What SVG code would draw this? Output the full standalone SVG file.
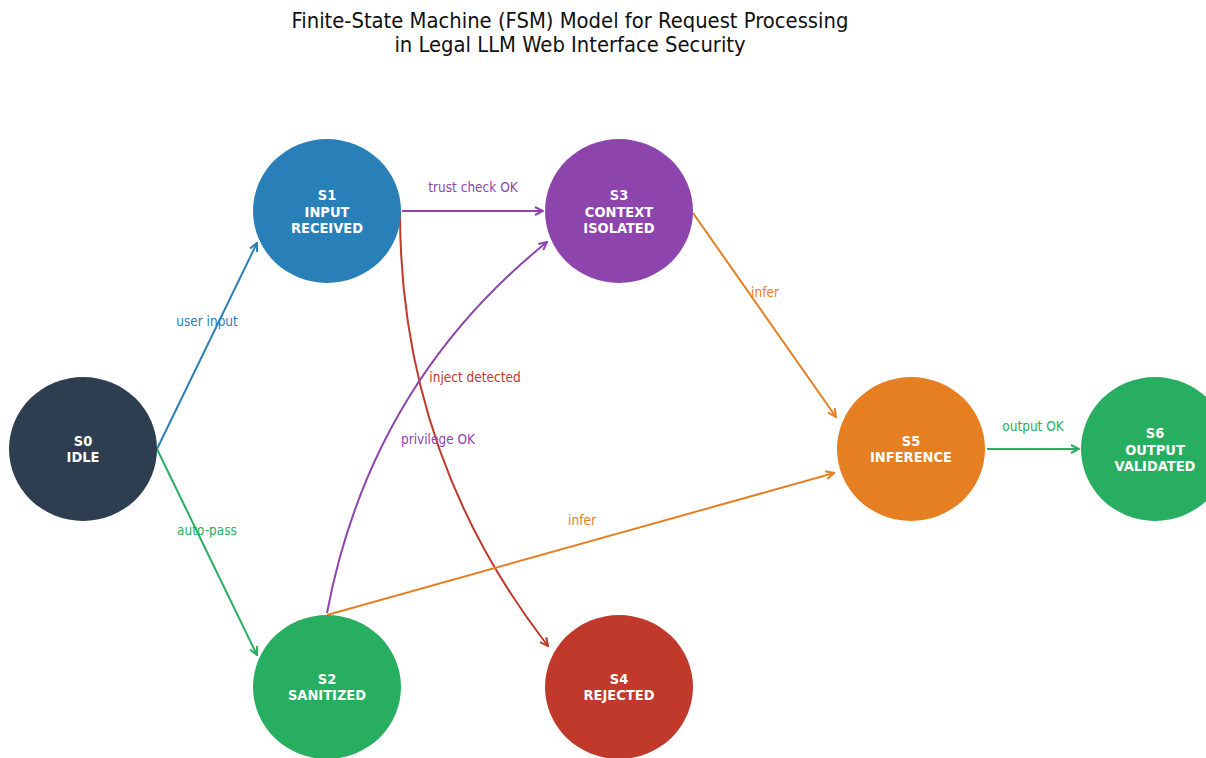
<svg xmlns="http://www.w3.org/2000/svg" width="1206" height="758" viewBox="0 0 1206 758">
<style>
.title{font-family:"DejaVu Sans Condensed","DejaVu Sans",sans-serif;font-size:21.8px;fill:#111;text-anchor:middle}
.nt{font-family:"DejaVu Sans Condensed","DejaVu Sans",sans-serif;font-size:14.5px;font-weight:bold;fill:#fff;text-anchor:middle}
.lb{font-family:"DejaVu Sans Condensed","DejaVu Sans",sans-serif;font-size:13.5px;text-anchor:middle}
.e{fill:none;stroke-width:2}
</style>
<defs>
<marker id="mb" viewBox="0 0 10 10" refX="9" refY="5" markerWidth="10" markerHeight="10" markerUnits="userSpaceOnUse" orient="auto"><path d="M1,1 L9,5 L1,9" fill="none" stroke="#2980b9" stroke-width="2"/></marker>
<marker id="mg" viewBox="0 0 10 10" refX="9" refY="5" markerWidth="10" markerHeight="10" markerUnits="userSpaceOnUse" orient="auto"><path d="M1,1 L9,5 L1,9" fill="none" stroke="#27ae60" stroke-width="2"/></marker>
<marker id="mp" viewBox="0 0 10 10" refX="9" refY="5" markerWidth="10" markerHeight="10" markerUnits="userSpaceOnUse" orient="auto"><path d="M1,1 L9,5 L1,9" fill="none" stroke="#8e44ad" stroke-width="2"/></marker>
<marker id="mr" viewBox="0 0 10 10" refX="9" refY="5" markerWidth="10" markerHeight="10" markerUnits="userSpaceOnUse" orient="auto"><path d="M1,1 L9,5 L1,9" fill="none" stroke="#c0392b" stroke-width="2"/></marker>
<marker id="mo" viewBox="0 0 10 10" refX="9" refY="5" markerWidth="10" markerHeight="10" markerUnits="userSpaceOnUse" orient="auto"><path d="M1,1 L9,5 L1,9" fill="none" stroke="#e67e22" stroke-width="2"/></marker>
</defs>
<rect width="1206" height="758" fill="#fff"/>
<text class="title" x="570" y="28">Finite-State Machine (FSM) Model for Request Processing</text>
<text class="title" x="570" y="52">in Legal LLM Web Interface Security</text>

<g id="connectors">
<path class="e" stroke="#2980b9" d="M157,449 L257,243" marker-end="url(#mb)"/>
<path class="e" stroke="#27ae60" d="M157,449 L257,655" marker-end="url(#mg)"/>
<path class="e" stroke="#8e44ad" d="M402,211 L543,211" marker-end="url(#mp)"/>
<path class="e" stroke="#c0392b" d="M400,213 Q400,455 548,646" marker-end="url(#mr)"/>
<path class="e" stroke="#8e44ad" d="M327,613 Q370,385 547,242" marker-end="url(#mp)"/>
<path class="e" stroke="#e67e22" d="M693,213 L836,417" marker-end="url(#mo)"/>
<path class="e" stroke="#e67e22" d="M327,615 L834,473" marker-end="url(#mo)"/>
<path class="e" stroke="#27ae60" d="M987,449 L1079,449" marker-end="url(#mg)"/>
<text class="lb" fill="#2980b9" x="207" y="326">user input</text>
<text class="lb" fill="#27ae60" x="207" y="535">auto-pass</text>
<text class="lb" fill="#8e44ad" x="473" y="192">trust check OK</text>
<text class="lb" fill="#c0392b" x="475" y="382">inject detected</text>
<text class="lb" fill="#8e44ad" x="438" y="444">privilege OK</text>
<text class="lb" fill="#e67e22" x="765" y="297">infer</text>
<text class="lb" fill="#e67e22" x="582" y="525">infer</text>
<text class="lb" fill="#27ae60" x="1033" y="431">output OK</text>
</g>

<g id="S0"><ellipse cx="83" cy="449" rx="74" ry="72" fill="#2c3e50"/><text class="nt" x="83" y="446">S0</text><text class="nt" x="83" y="462">IDLE</text></g>
<g id="S1"><ellipse cx="327" cy="211" rx="74" ry="72" fill="#2980b9"/><text class="nt" x="327" y="200">S1</text><text class="nt" x="327" y="217">INPUT</text><text class="nt" x="327" y="233">RECEIVED</text></g>
<g id="S2"><ellipse cx="327" cy="687" rx="74" ry="72" fill="#27ae60"/><text class="nt" x="327" y="684">S2</text><text class="nt" x="327" y="700">SANITIZED</text></g>
<g id="S3"><ellipse cx="619" cy="211" rx="74" ry="72" fill="#8e44ad"/><text class="nt" x="619" y="200">S3</text><text class="nt" x="619" y="217">CONTEXT</text><text class="nt" x="619" y="233">ISOLATED</text></g>
<g id="S4"><ellipse cx="619" cy="687" rx="74" ry="72" fill="#c0392b"/><text class="nt" x="619" y="684">S4</text><text class="nt" x="619" y="700">REJECTED</text></g>
<g id="S5"><ellipse cx="911" cy="449" rx="74" ry="72" fill="#e67e22"/><text class="nt" x="911" y="446">S5</text><text class="nt" x="911" y="462">INFERENCE</text></g>
<g id="S6"><ellipse cx="1155" cy="449" rx="74" ry="72" fill="#27ae60"/><text class="nt" x="1155" y="438">S6</text><text class="nt" x="1155" y="455">OUTPUT</text><text class="nt" x="1155" y="471">VALIDATED</text></g>
</svg>
